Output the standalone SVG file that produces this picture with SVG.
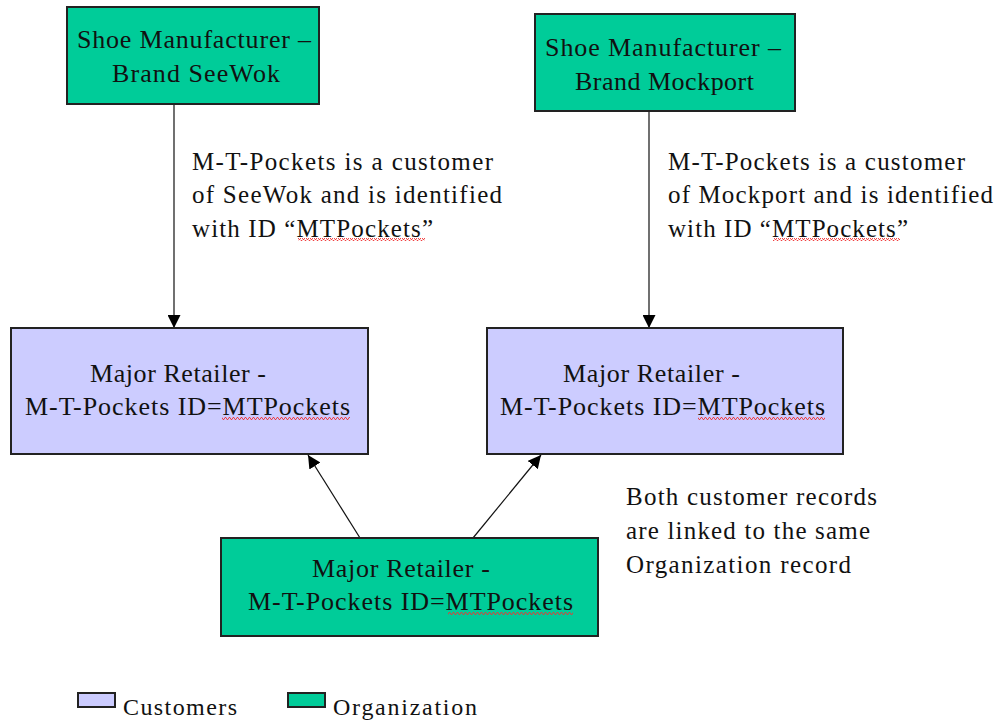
<svg xmlns="http://www.w3.org/2000/svg" width="1004" height="721" viewBox="0 0 1004 721">
<style>
  .org { fill: #00cc99; stroke: #222; stroke-width: 2; }
  .cus { fill: #ccccff; stroke: #222; stroke-width: 2; }
  .t { font-family: "Liberation Serif", "Times New Roman", serif; font-size: 26px; fill: #111; }
  .a { font-family: "Liberation Serif", "Times New Roman", serif; font-size: 25px; fill: #111; }
  .l { font-family: "Liberation Serif", "Times New Roman", serif; font-size: 24px; fill: #111; }
  .conn { stroke: #111; stroke-width: 1.2; fill: none; marker-end: url(#arr); }
  .sq { fill: url(#wave); }
</style>
<defs>
  <marker id="arr" viewBox="0 0 10 10" refX="10" refY="5" markerWidth="13" markerHeight="13" markerUnits="userSpaceOnUse" orient="auto">
    <path d="M0,0 L10,5 L0,10 z" fill="#000"/>
  </marker>
  <pattern id="wave" width="4" height="3" patternUnits="userSpaceOnUse">
    <path d="M0,2.5 L1,0.5 L2,0.5 L3,2.5 L4,2.5" stroke="#e33" stroke-width="0.9" fill="none"/>
  </pattern>
</defs>
<rect width="1004" height="721" fill="#fff"/>

<g id="connectors">
  <line class="conn" x1="174" y1="104" x2="174" y2="328"/>
  <line class="conn" x1="649" y1="111" x2="649" y2="328"/>
  <line class="conn" x1="360" y1="538" x2="308" y2="455"/>
  <line class="conn" x1="473" y1="538" x2="541" y2="455"/>
</g>

<g id="mfr-seewok">
  <rect class="org" x="67" y="7" width="252" height="97"/>
  <text class="t" x="77" y="48" textLength="234" lengthAdjust="spacing">Shoe Manufacturer –</text>
  <text class="t" x="112" y="82" textLength="168" lengthAdjust="spacing">Brand SeeWok</text>
</g>

<g id="mfr-mockport">
  <rect class="org" x="535" y="14" width="260" height="97"/>
  <text class="t" x="545" y="56" textLength="236" lengthAdjust="spacing">Shoe Manufacturer –</text>
  <text class="t" x="575" y="90" textLength="179" lengthAdjust="spacing">Brand Mockport</text>
</g>

<g id="customer-seewok">
  <rect class="cus" x="11" y="328" width="357" height="126"/>
  <text class="t" x="90" y="382" textLength="176" lengthAdjust="spacing">Major Retailer -</text>
  <text class="t" x="25" y="415" textLength="325" lengthAdjust="spacing">M-T-Pockets ID=MTPockets</text>
  <rect class="sq" x="222" y="417" width="128" height="3"/>
</g>

<g id="customer-mockport">
  <rect class="cus" x="487" y="328" width="356" height="126"/>
  <text class="t" x="563" y="382" textLength="177" lengthAdjust="spacing">Major Retailer -</text>
  <text class="t" x="500" y="415" textLength="325" lengthAdjust="spacing">M-T-Pockets ID=MTPockets</text>
  <rect class="sq" x="698" y="417" width="127" height="3"/>
</g>

<g id="organization">
  <rect class="org" x="221" y="538" width="377" height="98"/>
  <text class="t" x="312" y="577" textLength="178" lengthAdjust="spacing">Major Retailer -</text>
  <text class="t" x="248" y="610" textLength="325" lengthAdjust="spacing">M-T-Pockets ID=MTPockets</text>
  <rect class="sq" x="448" y="612" width="125" height="3"/>
</g>

<g id="note-seewok">
  <text class="a" x="192" y="170" textLength="301" lengthAdjust="spacing">M-T-Pockets is a customer</text>
  <text class="a" x="192" y="203" textLength="310" lengthAdjust="spacing">of SeeWok and is identified</text>
  <text class="a" x="192" y="237" textLength="241" lengthAdjust="spacing">with ID “MTPockets”</text>
  <rect class="sq" x="298" y="238" width="127" height="3"/>
</g>

<g id="note-mockport">
  <text class="a" x="668" y="170" textLength="297" lengthAdjust="spacing">M-T-Pockets is a customer</text>
  <text class="a" x="668" y="203" textLength="325" lengthAdjust="spacing">of Mockport and is identified</text>
  <text class="a" x="668" y="237" textLength="240" lengthAdjust="spacing">with ID “MTPockets”</text>
  <rect class="sq" x="773" y="238" width="127" height="3"/>
</g>

<g id="note-linked">
  <text class="a" x="626" y="505" textLength="251" lengthAdjust="spacing">Both customer records</text>
  <text class="a" x="626" y="539" textLength="244" lengthAdjust="spacing">are linked to the same</text>
  <text class="a" x="626" y="573" textLength="225" lengthAdjust="spacing">Organization record</text>
</g>

<g id="legend">
  <rect class="cus" x="78" y="693" width="37" height="14"/>
  <text class="l" x="123" y="715" textLength="114" lengthAdjust="spacing">Customers</text>
  <rect class="org" x="288" y="693" width="37" height="14"/>
  <text class="l" x="333" y="715" textLength="144" lengthAdjust="spacing">Organization</text>
</g>
</svg>
